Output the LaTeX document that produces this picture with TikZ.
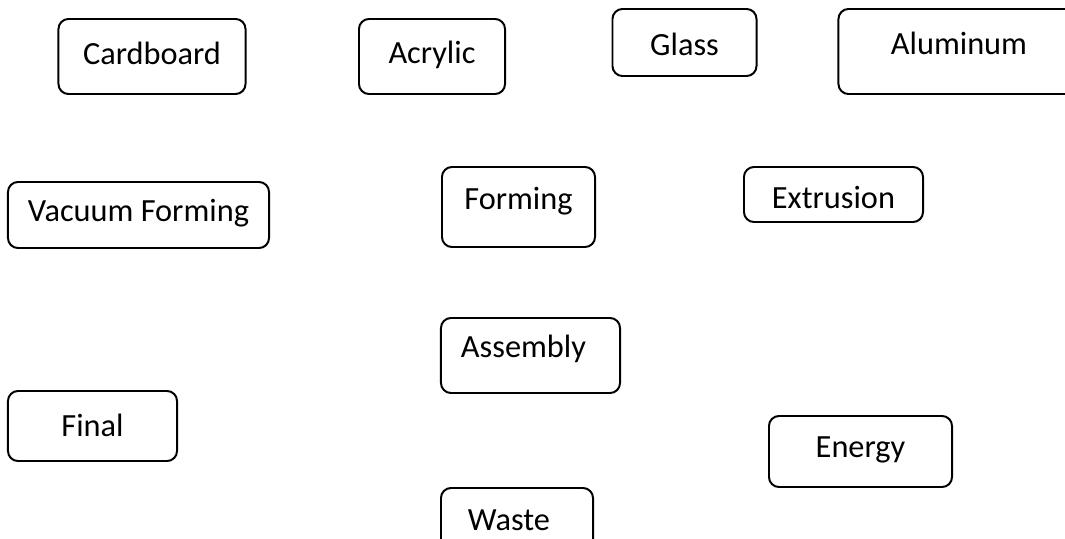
\documentclass[tikz,border=0pt]{standalone}
\usepackage{fontspec}
\setmainfont{Carlito}

\begin{document}
\begin{tikzpicture}[x=0.025cm, y=-0.025cm,
  block/.style={draw=black, line width=1.4pt, rounded corners=0.25cm, inner sep=0pt,
    font=\fontsize{23}{27}\selectfont, text height=0.6cm, text depth=0.06cm, align=center}]

% Canvas
\useasboundingbox (0,0) rectangle (1065,539);
\clip (0,0) rectangle (1065,539);

% --- Materials (top row) ---
\node[block, minimum width=4.675cm, minimum height=1.875cm, text depth=0.185cm] (cardboard) at (152,56.5) {Cardboard};
\node[block, minimum width=3.65cm, minimum height=1.875cm, text depth=0.235cm] (acrylic) at (432,56.5) {Acrylic};
\node[block, minimum width=3.6cm, minimum height=1.675cm, text height=0.725cm] (glass) at (684.5,42.5) {Glass};
\node[block, minimum width=6.025cm, minimum height=2.125cm, text depth=0.435cm] (aluminum) at (959,51.5) {Aluminum};

% --- Processes ---
\node[block, minimum width=6.525cm, minimum height=1.65cm, text depth=0.26cm] (vacuum) at (138.5,215) {Vacuum Forming};
\node[block, minimum width=3.825cm, minimum height=2.0cm, text depth=0.46cm] (forming) at (518.5,207) {Forming};
\node[block, minimum width=4.475cm, minimum height=1.375cm, text height=0.775cm] (extrusion) at (833.5,194.5) {Extrusion};
\node[block, minimum height=1.875cm, text depth=0.5cm, text width=3.475cm, inner xsep=0.5cm, align=left] (assembly) at (530.5,355.5) {Assembly};

% --- Outputs ---
\node[block, minimum width=4.225cm, minimum height=1.75cm] (final) at (92.5,426) {Final};
\node[block, minimum width=4.575cm, minimum height=1.775cm, text depth=0.285cm] (energy) at (860.5,451.5) {Energy};
\node[block, minimum height=1.75cm, text depth=0.21cm, text width=2.45cm, inner xsep=0.675cm, align=left] (waste) at (517,523) {Waste};

\end{tikzpicture}
\end{document}
